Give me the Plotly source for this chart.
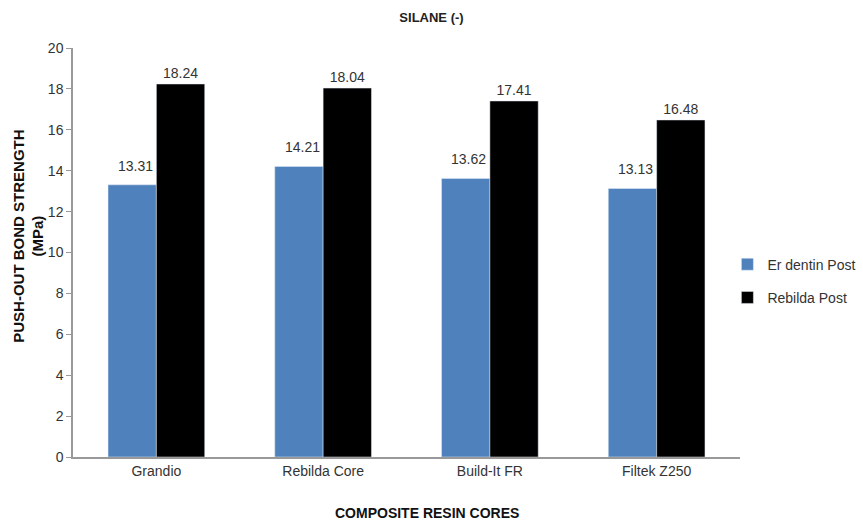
import plotly.graph_objects as go

categories = ["Grandio", "Rebilda Core", "Build-It FR", "Filtek Z250"]
er_dentin = [13.31, 14.21, 13.62, 13.13]
rebilda = [18.24, 18.04, 17.41, 16.48]
y_ticks = list(range(0, 21, 2))

font = "Liberation Sans, Arial, sans-serif"

fig = go.Figure()
fig.add_trace(go.Bar(
    name="Er dentin Post", x=categories, y=er_dentin,
    marker=dict(color="#4F81BD"), legendgroup="a",
))
fig.add_trace(go.Bar(
    name="Rebilda Post", x=categories, y=rebilda,
    marker=dict(color="#000000"), legendgroup="b",
    text=[f"{v:.2f}" for v in rebilda], textposition="outside",
    textfont=dict(size=14, color="#333333", family=font), cliponaxis=False,
))

annotations = [
    dict(text=f"{v:.2f}", x=c, y=v, xref="x", yref="y", xshift=-21, yshift=19,
         xanchor="center", yanchor="middle", showarrow=False,
         font=dict(size=14, color="#333333", family=font))
    for c, v in zip(categories, er_dentin)
]
annotations += [
    dict(text="<b>COMPOSITE RESIN CORES</b>", xref="paper", yref="paper",
         x=0.53, y=-0.137, xanchor="center", yanchor="middle", showarrow=False,
         font=dict(size=14, color="#111111")),
    dict(text="<b>PUSH-OUT BOND STRENGTH<br>(MPa)</b>", xref="paper", yref="paper",
         x=-0.068, y=0.54, xanchor="center", yanchor="middle", textangle=-90, showarrow=False,
         font=dict(size=15, color="#111111")),
]

fig.update_layout(
    width=863, height=527,
    paper_bgcolor="white", plot_bgcolor="white",
    margin=dict(l=73, r=123, t=48, b=70, autoexpand=False),
    barmode="group", bargap=0.42, bargroupgap=0,
    font=dict(family=font, size=14, color="#333333"),
    title=dict(text="<b>SILANE (-)</b>", x=0.5, xanchor="center", y=0.967, yanchor="middle",
               font=dict(size=13, color="#222222")),
    legend=dict(x=1.182, y=0.43, xanchor="right", yanchor="middle",
                font=dict(size=14, color="#333333"), itemwidth=30, tracegroupgap=12),
    xaxis=dict(
        showline=True, linecolor="#999999", linewidth=1.5, ticks="",
        tickfont=dict(size=14),
    ),
    yaxis=dict(
        range=[0, 20], tickvals=y_ticks, showgrid=False, zeroline=False,
        showline=True, linecolor="#999999", linewidth=1.5, ticks="outside", ticklen=5, tickcolor="#999999",
        tickfont=dict(size=14),
    ),
    annotations=annotations,
)

fig.write_html("out.html")
